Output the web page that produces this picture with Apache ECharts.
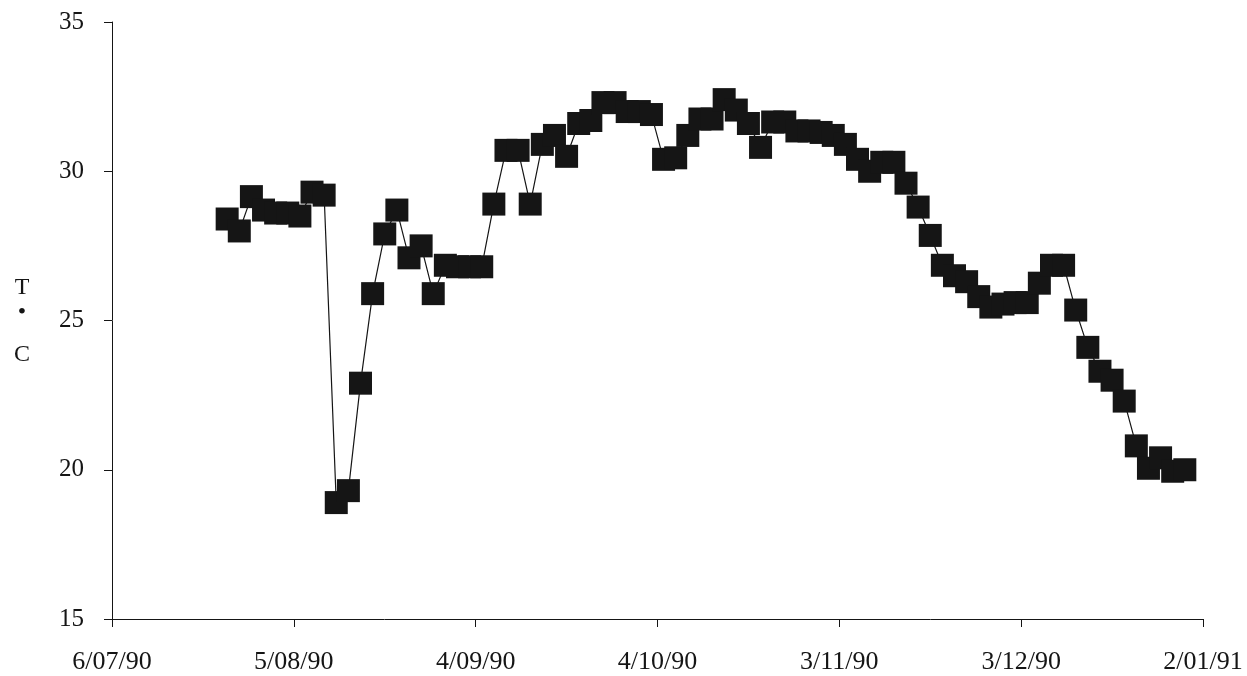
<!DOCTYPE html>
<html>
<head>
<meta charset="utf-8">
<script src="https://cdn.jsdelivr.net/npm/echarts@6/dist/echarts.min.js"></script>
<style>
  html, body { margin: 0; padding: 0; background: #ffffff; }
  #chart { width: 1247px; height: 676px; }
</style>
</head>
<body>
<div id="chart"></div>
<script>
// ---- data ----
const dates = [
  '25/07/90','27/07/90','29/07/90','31/07/90',
  '2/08/90','4/08/90','6/08/90','8/08/90','10/08/90','12/08/90','14/08/90','16/08/90',
  '18/08/90','20/08/90','22/08/90','24/08/90','26/08/90','28/08/90','30/08/90',
  '1/09/90','3/09/90','5/09/90','7/09/90','9/09/90','11/09/90','13/09/90','15/09/90',
  '17/09/90','19/09/90','21/09/90','23/09/90','25/09/90','27/09/90','29/09/90',
  '1/10/90','3/10/90','5/10/90','7/10/90','9/10/90','11/10/90','13/10/90','15/10/90',
  '17/10/90','19/10/90','21/10/90','23/10/90','25/10/90','27/10/90','29/10/90','31/10/90',
  '2/11/90','4/11/90','6/11/90','8/11/90','10/11/90','12/11/90','14/11/90','16/11/90',
  '18/11/90','20/11/90','22/11/90','24/11/90','26/11/90','28/11/90','30/11/90',
  '2/12/90','4/12/90','6/12/90','8/12/90','10/12/90','12/12/90','14/12/90','16/12/90',
  '18/12/90','20/12/90','22/12/90','24/12/90','26/12/90','28/12/90','30/12/90'
];
const temps = [
  28.4, 28.0, 29.15, 28.7,
  28.6, 28.6, 28.5, 29.3, 29.2, 18.9, 19.3, 22.9,
  25.9, 27.9, 28.7, 27.1, 27.5, 25.9, 26.85,
  26.8, 26.8, 26.8, 28.9, 30.7, 30.7, 28.9, 30.9,
  31.2, 30.5, 31.6, 31.7, 32.3, 32.3, 32.0,
  32.0, 31.9, 30.4, 30.45, 31.2, 31.75, 31.75, 32.4,
  32.05, 31.6, 30.8, 31.65, 31.65, 31.35, 31.35, 31.3,
  31.2, 30.9, 30.4, 30.0, 30.3, 30.3, 29.6, 28.8,
  27.85, 26.85, 26.5, 26.3, 25.8, 25.45, 25.55,
  25.6, 25.6, 26.25, 26.85, 26.85, 25.35, 24.1, 23.3,
  23.0, 22.3, 20.8, 20.05, 20.4, 19.95, 20.0
];
const xTickLabels = ['6/07/90','5/08/90','4/09/90','4/10/90','3/11/90','3/12/90','2/01/91'];
const yMin = 15, yMax = 35, yStep = 5;
const yAxisName = '{t|T}\n{d|•}\n{c|C}';

// ---- helpers ----
function parseDMY(s) {
  const p = s.split('/').map(Number);
  return Date.UTC(1900 + p[2], p[1] - 1, p[0]);
}
const t0 = parseDMY(xTickLabels[0]);
const dayOf = s => Math.round((parseDMY(s) - t0) / 86400000);
const xStep = dayOf(xTickLabels[1]);
const xMax = dayOf(xTickLabels[xTickLabels.length - 1]);
const seriesData = dates.map((d, i) => [dayOf(d), temps[i]]);

const font = '"Liberation Serif", "DejaVu Serif", serif';
const ink = '#151515';
const tickStyle = { color: ink, width: 1 };

const chart = echarts.init(document.getElementById('chart'), null, { renderer: 'canvas' });
chart.setOption({
  backgroundColor: '#ffffff',
  animation: false,
  grid: { left: 112, right: 44, top: 22, bottom: 57, containLabel: false },
  xAxis: {
    type: 'value', min: 0, max: xMax, interval: xStep, position: 'bottom',
    splitLine: { show: false },
    axisLine: { show: true, onZero: false, lineStyle: { color: ink, width: 1 } },
    axisTick: { show: true, length: 8, lineStyle: tickStyle },
    axisLabel: {
      margin: 30, color: ink, fontFamily: font, fontSize: 26,
      formatter: v => xTickLabels[Math.round(v / xStep)] || ''
    }
  },
  yAxis: {
    type: 'value', min: yMin, max: yMax, interval: yStep, position: 'left',
    splitLine: { show: false },
    axisLine: { show: true, onZero: false, lineStyle: { color: ink, width: 1 } },
    axisTick: { show: true, length: 8, lineStyle: tickStyle },
    axisLabel: { margin: 28, color: ink, fontFamily: font, fontSize: 25 },
    name: yAxisName,
    nameLocation: 'middle',
    nameRotate: 0,
    nameGap: 90,
    nameTextStyle: {
      color: ink, fontFamily: font, fontSize: 24, align: 'center',
      padding: [19, 0, 0, 0],
      rich: {
        t: { fontFamily: font, fontSize: 24, color: ink, lineHeight: 30 },
        d: { fontFamily: font, fontSize: 24, color: ink, lineHeight: 20 },
        c: { fontFamily: font, fontSize: 24, color: ink, lineHeight: 64 }
      }
    }
  },
  series: [
    {
      type: 'line',
      data: seriesData,
      symbol: 'rect',
      symbolSize: 23,
      showAllSymbol: true,
      itemStyle: { color: ink },
      lineStyle: { color: ink, width: 1.2 },
      emphasis: { disabled: true }
    }
  ]
});
</script>
</body>
</html>
